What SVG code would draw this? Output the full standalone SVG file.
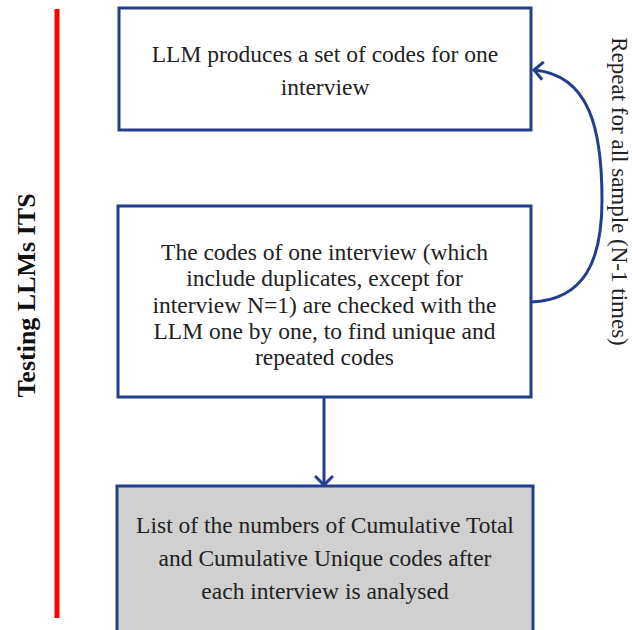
<svg xmlns="http://www.w3.org/2000/svg" width="632" height="630" viewBox="0 0 632 630">
<defs>
<style>
.box{fill:#ffffff;stroke:#233f8c;stroke-width:3}
.gray{fill:#d0d0d0}
.t{font-family:"Liberation Serif","Times New Roman",serif;font-size:23.5px;fill:#222;text-anchor:middle}
.side{font-size:23px}
.lbl{font-family:"Liberation Serif","Times New Roman",serif;font-size:26px;font-weight:bold;fill:#111;text-anchor:middle}
.conn{fill:none;stroke:#233f8c;stroke-width:3}
</style>
<marker id="chev" viewBox="0 0 20 20" refX="18" refY="10" markerWidth="20" markerHeight="20" markerUnits="userSpaceOnUse" orient="auto">
<polyline points="9,1 18,10 9,19" fill="none" stroke="#233f8c" stroke-width="3"/>
</marker>
</defs>
<rect width="632" height="630" fill="#ffffff"/>
<g id="side-label">
<line x1="57" y1="9" x2="57" y2="618" stroke="#ff0000" stroke-width="5"/>
<text class="lbl" transform="translate(35,295.5) rotate(-90)">Testing LLMs ITS</text>
</g>
<g id="node-produce">
<rect class="box" x="119" y="8" width="412" height="122"/>
<text class="t" x="325" y="62">LLM produces a set of codes for one</text>
<text class="t" x="325" y="95">interview</text>
</g>
<g id="node-check">
<rect class="box" x="118" y="206" width="413" height="191"/>
<text class="t" x="324.5" y="260">The codes of one interview (which</text>
<text class="t" x="324.5" y="286.3">include duplicates, except for</text>
<text class="t" x="324.5" y="312.6">interview N=1) are checked with the</text>
<text class="t" x="324.5" y="339">LLM one by one, to find unique and</text>
<text class="t" x="324.5" y="365">repeated codes</text>
</g>
<g id="node-list">
<rect class="box gray" x="117" y="486" width="416" height="160"/>
<text class="t" x="325" y="533">List of the numbers of Cumulative Total</text>
<text class="t" x="325" y="566">and Cumulative Unique codes after</text>
<text class="t" x="325" y="599">each interview is analysed</text>
</g>
<g id="connectors">
<path class="conn" d="M324,397 L324,485" marker-end="url(#chev)"/>
<path class="conn" d="M531,302 C585,300 602,260 602,200 C602,130 590,75 534,70" marker-end="url(#chev)"/>
</g>
<g id="loop-label">
<text class="t side" transform="translate(612,191.5) rotate(90)">Repeat for all sample (N-1 times)</text>
</g>
</svg>
